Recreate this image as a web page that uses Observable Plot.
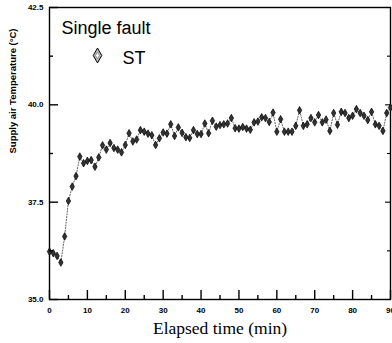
<!DOCTYPE html>
<html>
<head>
<meta charset="utf-8">
<script src="https://cdn.jsdelivr.net/npm/d3@7"></script>
<script src="https://cdn.jsdelivr.net/npm/@observablehq/plot@0.6"></script>
<style>
  html, body { margin: 0; padding: 0; background: #fff; }
  #chart svg { display: block; }
</style>
</head>
<body>
<div id="chart"></div>
<script>
// Supply air temperature logged once a minute during the single-fault run (ST)
const minutes = d3.range(0, 91);
const supplyTemp = [
  36.23, 36.19, 36.12, 35.95, 36.62, 37.53, 37.90, 38.17, 38.67, 38.50,
  38.56, 38.58, 38.41, 38.65, 38.96, 38.85, 39.02, 38.89, 38.85, 38.78,
  38.97, 39.27, 39.06, 39.11, 39.35, 39.31, 39.26, 39.22, 38.97, 39.14,
  39.29, 39.26, 39.50, 39.20, 39.42, 39.28, 39.17, 39.15, 39.35, 39.25,
  39.25, 39.52, 39.27, 39.59, 39.44, 39.48, 39.50, 39.52, 39.66, 39.40,
  39.39, 39.43, 39.39, 39.36, 39.55, 39.57, 39.68, 39.66, 39.56, 39.80,
  39.31, 39.63, 39.31, 39.31, 39.31, 39.46, 39.86, 39.46, 39.50, 39.66,
  39.55, 39.74, 39.55, 39.62, 39.33, 39.79, 39.49, 39.82, 39.79, 39.66,
  39.72, 39.89, 39.79, 39.72, 39.61, 39.82, 39.50, 39.46, 39.33, 39.79,
  39.93
];

const xMajor = [0, 10, 20, 30, 40, 50, 60, 70, 80, 90];
const xMinor = [5, 15, 25, 35, 45, 55, 65, 75, 85];
const yMajor = [35.0, 37.5, 40.0, 42.5];
const yMinor = [36.25, 38.75, 41.25];

const seriesName = "ST";
const legendTitle = "Single fault";
const xTitle = "Elapsed time (min)";
const yTitle = "Supply air Temperature (°C)";

const rows = minutes.map((m, i) => ({minute: m, temp: supplyTemp[i]}));

const W = 392, H = 343;
const M = {left: 49, right: 2, top: 7, bottom: 44};
const xDomain = [0, 90];
const yDomain = [35, 42.5];
// scale units per pixel, used to size the inward tick marks
const xPerPx = (xDomain[1] - xDomain[0]) / (W - M.left - M.right);
const yPerPx = (yDomain[1] - yDomain[0]) / (H - M.top - M.bottom);

const tickFont = {fontSize: 8, fontWeight: "bold", fontFamily: "Liberation Sans, Arial, sans-serif"};

const tickBottom = (ticks, n) => Plot.ruleX(ticks, {x: d => d, y1: yDomain[0], y2: yDomain[0] + n * yPerPx, stroke: "black", strokeWidth: 1.4});
const tickLeft = (ticks, n) => Plot.ruleY(ticks, {y: d => d, x1: xDomain[0], x2: xDomain[0] + n * xPerPx, stroke: "black", strokeWidth: 1.4});
const tickRight = (ticks, n) => Plot.ruleY(ticks, {y: d => d, x1: xDomain[1] - n * xPerPx, x2: xDomain[1], stroke: "black", strokeWidth: 1.1});

const chart = Plot.plot({
  width: W,
  height: H,
  marginLeft: M.left,
  marginRight: M.right,
  marginTop: M.top,
  marginBottom: M.bottom,
  style: {background: "#fff", color: "#000", fontFamily: "Liberation Sans, Arial, sans-serif"},
  x: {domain: xDomain},
  y: {domain: yDomain},
  marks: [
    Plot.frame({stroke: "black", strokeWidth: 1.4}),
    // tick labels
    Plot.axisX({ticks: xMajor, anchor: "bottom", tickSize: 0, tickPadding: 8, label: null, tickFormat: d3.format("d"), ...tickFont}),
    Plot.axisY({ticks: yMajor, anchor: "left", tickSize: 0, tickPadding: 6, label: null, tickFormat: d3.format(".1f"), ...tickFont}),
    // axis titles
    Plot.text([xTitle], {frameAnchor: "bottom", dy: 29, lineAnchor: "middle", fontSize: 17.5, fontFamily: "Liberation Serif, Times New Roman, serif", fill: "#000"}),
    Plot.text([yTitle], {frameAnchor: "left", dx: -37, rotate: -90, fontSize: 9.5, fontWeight: "bold", fill: "#000"}),
    // measured series: dotted connector plus diamond markers
    Plot.line(rows, {x: "minute", y: "temp", stroke: "#555", strokeWidth: 0.9, strokeDasharray: "1.2,1.6"}),
    Plot.dot(rows, {x: "minute", y: "temp", symbol: "diamond", r: 2.3, fill: "#333", stroke: "#000", strokeWidth: 0.7}),
    // legend
    Plot.text([legendTitle], {frameAnchor: "top-left", dx: 12, dy: 26, textAnchor: "start", lineAnchor: "bottom", fontSize: 18, fill: "#000"}),
    Plot.dot([seriesName], {frameAnchor: "top-left", dx: 48, dy: 48, symbol: "diamond", r: 4.5, fill: "#bbb", stroke: "#000", strokeWidth: 1}),
    Plot.dot([seriesName], {frameAnchor: "top-left", dx: 48, dy: 48, symbol: "diamond", r: 2, fill: "#fff", stroke: "#666", strokeWidth: 0.6}),
    Plot.text([seriesName], {frameAnchor: "top-left", dx: 73, dy: 56, textAnchor: "start", lineAnchor: "bottom", fontSize: 18, fill: "#000"}),
    // inward tick marks on the bottom, left and right edges
    tickBottom(xMajor, 9),
    tickBottom(xMinor, 4),
    tickLeft(yMajor, 9),
    tickLeft(yMinor, 4),
    tickRight(yMajor, 5),
    tickRight(yMinor, 3)
  ]
});

document.getElementById("chart").appendChild(chart);
</script>
</body>
</html>
